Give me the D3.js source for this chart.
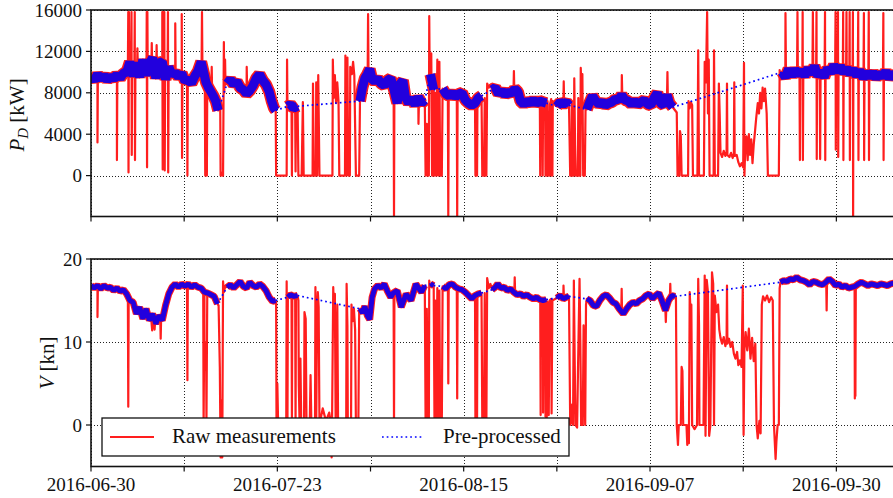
<!DOCTYPE html>
<html>
<head>
<meta charset="utf-8">
<script src="https://cdn.jsdelivr.net/npm/d3@7"></script>
<style>
  html, body { margin: 0; padding: 0; background: #fff; }
  svg { display: block; font-family: "Liberation Serif", "DejaVu Serif", serif; }
</style>
</head>
<body>
<svg id="chart" width="893" height="498"></svg>
<script>
// ---------------------------------------------------------------
// Data: [day offset from startDate, value]
// ---------------------------------------------------------------
const startDate = "2016-06-30";
const xTickLabels = ["2016-06-30", "2016-07-23", "2016-08-15", "2016-09-07", "2016-09-30"];
const powerTicks = [0, 4000, 8000, 12000, 16000];
const speedTicks = [0, 10, 20];
const seriesNames = ["Raw measurements", "Pre-processed"];

// Pre-processed shaft power [kW]; gaps between runs are bridged
const powerClean = [
  [0,9600],[0.4,9200],[0.8,9800],[1.2,9300],[1.6,9700],[2.0,9200],[2.4,9600],[2.8,9300],[3.2,9800],[3.6,9400],
  [4.0,9900],[4.4,10000],[4.8,11000],[5.2,9600],[5.6,10900],[6.0,9500],[6.4,11200],[6.8,9700],[7.2,10800],[7.6,11400],
  [8.0,9400],[8.4,10900],[8.8,11000],[9.2,9300],[9.6,10500],[10.0,9700],[10.4,10000],[10.8,9500],[11.2,9900],[11.6,9100],
  [12.0,9300],[12.4,8900],[12.8,9600],[13.2,10100],[13.6,11000],[13.9,10000],[14.2,9000],[14.5,8500],[14.8,8100],[15.1,7700],
  [15.4,7200],[15.7,6300],
  [16.8,8900],[17.2,9300],[17.6,8800],[18.0,9100],[18.4,8500],[18.8,8300],[19.2,7900],[19.6,8200],[20.0,8700],[20.4,9400],
  [20.8,9800],[21.2,9200],[21.6,8800],[22.0,8100],[22.3,7200],[22.6,6500],[22.8,6300],
  [24.3,6700],[24.6,6900],[25.0,6500],[25.5,6700],
  [33.2,7200],[33.5,8500],[33.8,9400],[34.1,9800],[34.4,10300],[34.7,9300],[35.0,9100],[35.4,9400],[35.8,8900],[36.2,8700],
  [36.6,9200],[37.0,9400],[37.3,8600],[37.8,7000],[38.1,8800],[38.5,9200],[38.8,7600],[39.2,7000],[39.6,7500],[40.0,6800],
  [40.4,7600],[40.8,7000],[41.2,7300],
  [41.9,9800],[42.3,8300],
  [43.4,8400],[43.8,7900],[44.2,7700],[44.6,8000],[45.0,7600],[45.4,7900],[45.8,8000],[46.2,7300],[46.6,7000],[47.0,6800],
  [47.4,7000],[47.8,7500],[48.2,7700],
  [49.5,8300],[49.9,8500],[50.3,7900],[50.7,8200],[51.1,7800],[51.5,8100],[51.9,7900],[52.3,8400],[52.7,8100],[53.0,7200],
  [53.4,6900],[53.8,7200],[54.2,7000],[54.6,7300],[55.0,7000],[55.4,7200],[55.8,7100],[56.2,7000],
  [57.5,6700],[57.9,7100],[58.3,6900],[58.7,7100],[59.0,6800],
  [61.2,6400],[61.5,7000],[61.9,7700],[62.3,7200],[62.7,6900],[63.1,7100],[63.5,6800],[63.9,7000],[64.3,7100],[64.7,7400],
  [65.1,7300],[65.5,7800],[65.9,7300],[66.3,7200],[66.7,6900],[67.1,7200],[67.5,6900],[67.9,7100],[68.3,7300],[68.7,6900],
  [69.1,6800],[69.5,7500],[69.9,8000],[70.3,7000],[70.7,6800],[71.1,7800],[71.4,7000],[71.8,6600],
  [85.3,10000],[85.7,9500],[86.1,10300],[86.5,9600],[86.9,10300],[87.3,9700],[87.7,10200],[88.1,9600],[88.5,10400],[88.9,9800],
  [89.3,10600],[89.7,9600],[90.1,10100],[90.5,9500],[90.9,10400],[91.3,9900],[91.7,10700],[92.1,10000],[92.5,10600],[92.9,9900],
  [93.3,10400],[93.7,9800],[94.1,10300],[94.5,9600],[94.9,10200],[95.3,9400],[95.7,10000],[96.1,9500],[96.5,10000],[96.9,9400],
  [97.3,9900],[97.7,9500],[98.1,10100],[98.5,9400],[98.9,9900],[99.3,9600],[99.6,9800]
];

// Raw power readings that were rejected (spikes, drop-outs, unsteady periods)
const powerOutliers = [
  [0.75,9500],[0.8,3200],[0.85,9600],
  [3.15,9600],[3.2,1500],[3.25,9600],
  [4.55,10200],[4.6,15800],[4.63,300],[4.68,15800],[4.72,10300],
  [4.95,10200],[5.0,15800],[5.03,2000],[5.08,10500],
  [5.35,10000],[5.4,15800],[5.43,1500],[5.48,10300],
  [5.7,10800],[5.73,12300],[5.78,10500],
  [6.85,10300],[6.88,15800],[6.92,800],[6.96,15800],[7.0,10200],
  [7.45,10500],[7.5,12800],[7.55,10400],
  [8.05,10200],[8.1,12600],[8.15,10200],
  [8.75,10300],[8.8,15800],[8.85,600],[8.9,15800],[8.95,1000],[9.05,15800],[9.1,500],[9.15,10000],
  [9.45,10000],[9.5,15800],[9.53,300],[9.58,9900],
  [10.35,9800],[10.4,14700],[10.45,9800],
  [11.15,9500],[11.2,15600],[11.24,1700],[11.28,9400],
  [11.85,9200],[11.9,0],[11.95,9200],
  [13.65,10800],[13.7,15800],[13.75,10600],
  [14.05,9000],[14.1,0],[14.2,800],[14.3,0],[14.35,8800],
  [14.85,8200],[14.9,10500],[14.95,8000],
  [15.95,6800],[16.0,0],[16.1,300],[16.2,0],[16.3,0],[16.4,12900],[16.45,8000],[16.55,11200],[16.6,8800],
  [19.15,8000],[19.22,10500],[19.28,8100],
  [22.85,0],[23.5,0],[24.15,0],[24.2,11200],[24.25,6500],
  [24.75,6800],[24.8,0],[24.85,6700],
  [25.2,6600],[25.25,400],[25.3,6600],
  [25.6,0],[26.0,0],[26.15,7100],[26.25,0],[26.8,0],[27.35,0],[27.4,8900],[27.5,0],[27.75,0],[27.8,9000],
  [27.9,0],[28.05,9700],[28.2,0],[29.8,0],[29.85,11200],[29.95,7500],[30.1,9700],[30.25,7000],[30.4,9000],[30.55,7200],
  [30.65,0],[31.35,0],[31.4,11600],[31.5,0],[31.65,11400],[31.75,0],[31.95,0],[32.0,10500],[32.2,9800],[32.35,11000],
  [32.5,9700],[32.7,0],[33.1,0],
  [34.15,9900],[34.2,15600],[34.25,10000],
  [37.35,9200],[37.4,-3900],[37.45,9200],
  [40.35,7400],[40.42,5000],[40.48,7200],
  [41.3,0],[41.45,5000],[41.55,0],[41.7,0],[41.75,15400],[41.8,9500],
  [42.0,11800],[42.1,0],[42.2,0],[42.25,8600],
  [42.4,0],[42.5,8000],[42.6,0],[42.75,11200],[42.85,0],[43.0,11000],[43.1,0],[43.3,0],
  [44.05,7700],[44.1,-3900],[44.15,7700],
  [45.15,7700],[45.2,-3900],[45.25,7800],
  [47.45,0],[47.55,6900],[47.65,0],[47.7,7300],
  [48.3,0],[48.5,0],[48.6,7500],[48.7,0],[48.8,0],[48.9,8900],[49.1,8500],[49.3,8800],
  [52.15,8200],[52.2,10100],[52.25,8200],
  [55.35,7000],[55.45,0],[55.5,7100],[55.7,7000],[55.75,0],[55.8,7000],[56.05,7100],[56.1,0],
  [56.25,0],[56.35,7200],[56.5,0],[56.6,0],[56.65,6900],[56.8,7400],[56.85,0],[56.95,0],[57.0,7200],[57.3,6800],
  [58.25,6900],[58.35,9100],[58.4,6900],
  [59.15,0],[59.3,0],[59.35,7000],[59.45,0],[59.6,0],[59.65,9400],[59.75,3000],[59.85,0],[60.1,0],[60.15,7500],
  [60.25,0],[60.4,0],[60.45,10400],[60.55,8000],[60.65,9800],[60.75,0],[60.95,0],[61.05,7000],
  [65.45,7500],[65.52,9700],[65.58,7600],
  [71.05,7600],[71.15,10000],[71.2,7500],
  [72.3,6100],[72.4,0],[72.6,0],[72.7,4300],[72.8,3800],[72.9,0],[73.7,0],[73.75,7200],[73.9,6500],[74.05,7100],
  [74.2,6800],[74.3,0],[74.85,0],[74.95,12100],[75.05,0],[75.65,0],[75.75,11000],[75.9,9000],[76.05,15800],[76.15,6000],
  [76.25,11200],[76.35,0],[76.85,0],[76.9,12100],[77.0,0],[77.4,0],[77.5,8900],[77.6,6000],[77.7,2200],[77.9,1800],
  [78.1,2400],[78.3,1900],[78.45,2300],[78.5,8900],[78.55,2000],[78.8,1800],[79.0,2200],[79.2,1700],[79.35,2100],[79.4,9000],
  [79.45,1900],[79.7,2000],[79.9,1300],[80.1,900],[80.3,1200],[80.5,800],[80.6,10900],[80.65,0],[80.75,2500],[80.9,3800],
  [81.05,1500],[81.2,4000],[81.35,2000],[81.5,3500],[81.65,1200],[81.8,3000],[81.95,4200],[82.1,5500],[82.3,7000],[82.45,6000],
  [82.6,8000],[82.75,6500],[82.9,8500],[83.05,7200],[83.2,8400],[83.4,6000],[83.55,0],[84.9,0],[85.0,10200],[85.15,9400],
  [85.65,9700],[85.72,15700],[85.78,9700],
  [87.15,9800],[87.2,15800],[87.25,9700],[87.45,9700],[87.5,1500],[87.55,9700],
  [87.8,9700],[87.84,15800],[87.87,1500],[87.92,9800],
  [89.05,10000],[89.1,15800],[89.15,10300],[89.5,10000],[89.55,15800],[89.58,1600],[89.62,9900],
  [89.95,9700],[90.0,1600],[90.05,9700],
  [90.55,9900],[90.6,15800],[90.63,1500],[90.67,9900],
  [91.85,10300],[91.9,15800],[91.93,2500],[91.97,10200],[92.15,10200],[92.2,15800],[92.23,1800],[92.27,10200],
  [92.8,10200],[92.84,15800],[92.87,1500],[92.92,10100],[93.2,10000],[93.25,15800],[93.28,10000],
  [93.6,10100],[93.64,15800],[93.67,1500],[93.72,10000],
  [94.0,9900],[94.04,15800],[94.07,-3900],[94.12,9900],[94.65,9900],[94.7,15800],[94.73,1500],[94.77,9900],
  [95.35,9600],[95.4,15700],[95.43,1500],[95.47,9600],[95.95,9700],[96.0,15800],[96.03,1500],[96.07,9700],
  [97.75,9700],[97.8,15700],[97.83,1500],[97.87,9700]
];

// Pre-processed ship speed [kn]
const speedClean = [
  [0,16.8],[0.4,16.5],[0.8,16.8],[1.2,16.4],[1.6,16.8],[2.0,16.5],[2.4,16.6],[2.8,16.2],[3.2,16.5],[3.6,16.1],
  [4.0,16.3],[4.4,15.8],[4.8,15.0],[5.2,14.8],[5.6,13.4],[6.0,14.2],[6.4,12.8],[6.8,14.0],[7.2,12.6],[7.6,13.4],
  [8.0,12.2],[8.4,13.2],[8.8,12.6],[9.2,14.4],[9.6,15.8],[10.0,16.6],[10.4,17.0],[10.8,16.6],[11.2,17.0],[11.6,16.7],
  [12.0,17.0],[12.4,16.6],[12.8,16.9],[13.2,16.6],[13.6,16.5],[14.0,16.0],[14.4,15.9],[14.8,15.7],[15.2,15.5],[15.6,14.6],
  [16.8,16.6],[17.2,16.9],[17.6,16.5],[18.0,16.9],[18.4,17.3],[18.8,16.7],[19.2,16.5],[19.6,17.2],[20.0,16.8],[20.4,16.6],
  [20.8,17.0],[21.2,16.7],[21.6,16.2],[22.0,15.4],[22.4,14.9],[22.8,15.0],
  [24.3,15.4],[24.6,15.7],[25.0,15.5],[25.5,15.6],
  [33.2,14.0],[33.5,13.5],[33.8,14.3],[34.1,13.2],[34.4,12.7],[34.7,15.4],[35.0,16.4],[35.4,16.8],[35.8,16.5],[36.2,17.0],
  [36.6,16.1],[37.0,15.4],[37.3,15.9],[37.8,16.2],[38.3,14.2],[38.6,15.0],[38.9,15.8],[39.2,15.4],[39.5,15.0],[39.8,16.0],
  [40.1,17.0],[40.5,16.4],[40.8,16.0],[41.2,16.8],
  [41.9,17.0],[42.3,16.8],
  [43.4,16.7],[43.8,16.4],[44.2,16.9],[44.6,17.0],[45.0,16.6],[45.4,16.4],[45.8,16.3],[46.2,16.0],[46.6,15.6],[47.0,15.2],
  [47.4,15.6],[47.8,15.8],[48.2,15.9],
  [49.5,16.3],[49.9,16.6],[50.2,17.0],[50.6,16.5],[51.0,16.6],[51.4,16.2],[51.8,16.4],[52.2,16.0],[52.6,15.7],[53.0,15.8],
  [53.4,15.5],[53.8,15.7],[54.2,15.4],[54.6,15.2],[55.0,15.4],[55.4,15.1],[55.8,15.0],[56.2,15.1],
  [57.5,15.3],[57.9,15.6],[58.3,15.2],[58.7,15.4],[59.0,15.5],
  [61.2,15.2],[61.6,15.0],[62.0,14.4],[62.4,14.3],[62.8,15.0],[63.2,15.5],[63.6,15.7],[64.0,15.3],[64.4,14.8],[64.8,14.6],
  [65.2,14.0],[65.7,13.4],[66.1,14.0],[66.5,14.5],[66.9,14.8],[67.3,14.6],[67.7,15.0],[68.1,15.2],[68.5,15.6],[68.9,15.8],
  [69.3,15.2],[69.7,15.6],[70.1,15.9],[70.5,14.9],[70.9,13.8],[71.3,15.0],[71.7,15.6],[72.1,15.5],
  [85.1,17.2],[85.5,17.4],[85.9,17.3],[86.3,17.6],[86.7,17.5],[87.1,17.8],[87.5,17.5],[87.9,17.4],[88.3,17.2],[88.7,16.9],
  [89.1,17.3],[89.5,17.2],[89.9,17.0],[90.3,16.9],[90.7,17.2],[91.1,17.6],[91.5,17.3],[91.9,16.8],[92.3,17.0],[92.7,16.6],
  [93.1,16.8],[93.5,16.5],[93.9,16.6],[94.3,16.7],[94.7,17.0],[95.1,17.2],[95.5,17.0],[95.9,16.8],[96.3,17.0],[96.7,16.9],
  [97.1,16.8],[97.5,17.0],[97.9,16.9],[98.3,16.8],[98.7,17.0],[99.1,17.1],[99.5,17.0]
];

// Raw speed readings that were rejected
const speedOutliers = [
  [0.75,16.7],[0.8,13.0],[0.85,16.6],
  [4.55,15.9],[4.6,2.2],[4.65,15.5],
  [7.45,12.6],[7.55,11.4],[7.7,12.8],[7.85,11.5],[7.95,13.0],
  [8.55,12.8],[8.6,10.4],[8.65,12.6],
  [11.85,16.9],[11.9,5.4],[11.95,16.8],
  [13.85,16.3],[13.9,0],[14.0,9.5],[14.1,6.7],[14.2,10.0],[14.25,0.5],[14.35,15.8],
  [15.75,14.4],[15.8,12.0],[15.9,7.0],[16.0,-3.9],[16.1,3.0],[16.2,-3.9],[16.3,17.3],[16.4,16.0],[16.6,16.8],
  [22.85,14.9],[22.9,0],[23.0,5.0],[23.1,0],[23.6,0],[24.1,0],[24.15,17.3],[24.25,0],
  [24.75,15.6],[24.8,0],[24.85,15.5],
  [25.2,15.5],[25.25,0],[25.3,15.6],
  [25.6,15.0],[25.65,4.8],[25.75,0],[25.85,8.0],[25.95,0],[26.3,0],[26.35,13.6],[26.5,12.8],[26.6,0],[27.0,0],
  [27.1,6.0],[27.2,0],[27.65,0],[27.7,16.6],[27.8,0],[27.9,13.5],[28.0,16.0],[28.1,14.2],[28.2,0],[28.6,2.0],
  [29.0,0.5],[29.4,1.5],[29.65,0],[29.7,-3.9],[29.75,0],[29.9,16.6],[30.0,13.0],[30.1,15.8],[30.2,0],[30.4,14.5],
  [30.5,0],[31.0,0],[31.5,0],[31.55,17.0],[31.65,12.0],[31.7,0],[32.1,0],[32.15,14.5],[32.3,12.5],[32.45,14.0],
  [32.6,11.5],[32.7,0],[33.0,0],[33.1,13.5],
  [37.35,15.6],[37.4,0],[37.45,15.7],
  [41.3,0],[41.45,14.0],[41.55,0],[41.7,0],[41.75,17.4],[41.85,16.8],
  [42.4,0],[42.5,15.0],[42.6,0],[42.75,16.5],[42.85,0],[43.0,16.2],[43.1,0],[43.3,0],
  [44.05,16.9],[44.1,5.0],[44.15,16.8],
  [45.15,16.6],[45.2,3.2],[45.25,16.5],
  [47.45,0],[47.55,15.4],[47.65,0],[47.7,15.7],
  [48.3,0],[48.5,0],[48.6,15.9],[48.7,0],[48.8,0],[48.9,17.7],[49.1,16.5],[49.3,17.0],
  [52.25,16.0],[52.3,17.8],[52.35,15.9],
  [55.45,15.1],[55.5,1.2],[55.55,15.0],[55.75,15.0],[55.8,1.5],[55.85,15.0],[56.05,15.1],[56.1,1.0],
  [56.25,0.8],[56.35,14.8],[56.5,1.2],[56.6,15.0],[56.8,15.2],[56.85,1.4],[56.95,15.0],
  [58.25,15.3],[58.32,16.8],[58.38,15.2],
  [59.15,0],[59.3,0.5],[59.4,2.5],[59.5,0],[59.6,17.4],[59.7,8.0],[59.8,0],[60.0,-0.3],[60.1,6.0],[60.3,17.6],
  [60.4,10.0],[60.5,0],[60.7,0],[60.8,12.0],[61.0,0],[61.1,14.5],
  [65.45,13.6],[65.5,16.4],[65.55,13.5],
  [70.85,13.8],[70.95,12.4],[71.0,13.8],
  [71.45,15.3],[71.5,17.0],[71.55,15.4],
  [72.2,15.4],[72.3,0],[72.45,-2.4],[72.55,0],[72.8,0],[72.9,7.0],[73.0,6.5],[73.1,0],[73.5,0],[73.6,-2.4],
  [73.7,0],[73.8,-2.2],[73.9,16.0],[74.0,13.6],[74.1,14.5],[74.2,0],[74.5,-0.5],[74.8,0],[74.95,17.6],[75.05,12.0],
  [75.1,0],[75.6,0],[75.75,18.0],[75.85,-1.3],[76.0,17.5],[76.15,16.0],[76.3,-1.3],[76.45,0],[76.65,18.4],[76.8,17.0],
  [76.9,0],[77.0,15.6],[77.2,13.6],[77.4,14.5],[77.55,11.5],[77.7,10.5],[77.9,9.8],[78.1,10.6],[78.3,9.5],[78.45,10.2],
  [78.5,16.8],[78.55,9.8],[78.75,10.4],[78.95,9.4],[79.15,10.0],[79.35,8.6],[79.55,8.0],[79.75,8.8],[79.9,7.2],[80.1,7.8],
  [80.3,7.0],[80.45,16.8],[80.55,-1.2],[80.65,9.0],[80.8,11.2],[81.0,9.0],[81.2,11.6],[81.4,8.0],[81.6,10.5],[81.8,7.7],
  [82.0,9.8],[82.15,0],[82.3,-1.6],[82.5,0.5],[82.65,-1.0],[82.8,14.5],[82.95,15.5],[83.2,15.0],[83.45,15.6],[83.7,14.8],
  [83.95,15.4],[84.15,15.0],[84.3,0],[84.5,-4.1],[84.6,-2.0],[84.75,0],[84.9,0],[85.0,16.5],
  [90.75,17.2],[90.8,13.8],[90.85,17.1],
  [94.25,16.7],[94.28,3.2],[94.35,3.5],[94.4,16.8]
];

// ---------------------------------------------------------------
// Layout
// ---------------------------------------------------------------
const svg = d3.select("#chart");
const DAY = 864e5;
const t0 = Date.parse(startDate + "T00:00:00Z");
const toDate = d => new Date(t0 + d * DAY);

const plotLeft = 91, plotRight = 895.5;
const x = d3.scaleUtc().domain([toDate(0), toDate(99.3)]).range([plotLeft, plotRight]);

const majorDates = xTickLabels.map(s => new Date(Date.parse(s + "T00:00:00Z")));
const minorDates = majorDates.slice(0, -1).map((d, i) => new Date((+d + +majorDates[i + 1]) / 2));
const allXTicks = majorDates.concat(minorDates);

const RED = "#ff1e1e", BAND = "#2200dd", BLUE = "#0000ff", INK = "#111";
const GAP = 0.55; // days; longer spacing means the cleaned series was bridged

const panels = [
  { id: "power", clean: powerClean, outliers: powerOutliers, domain: [-3950, 16000],
    top: 10, bottom: 216.5, ticks: powerTicks, bandW: 9, rimW: 12,
    title: { main: "P", sub: "D", unit: " [kW]", x: 24, y: 115 } },
  { id: "speed", clean: speedClean, outliers: speedOutliers, domain: [-5, 20],
    top: 259, bottom: 466.5, ticks: speedTicks, bandW: 5, rimW: 7,
    title: { main: "V", sub: null, unit: " [kn]", x: 54, y: 363 }, xLabels: true }
];

const defs = svg.append("defs");

panels.forEach(p => {
  const y = d3.scaleLinear().domain(p.domain).range([p.bottom, p.top]);
  const line = d3.line().x(d => x(toDate(d[0]))).y(d => y(d[1]));

  // split cleaned series into continuous runs and bridges between them
  const runs = [];
  p.clean.forEach((pt, i) => {
    if (i === 0 || pt[0] - p.clean[i - 1][0] > GAP) runs.push([]);
    runs[runs.length - 1].push(pt);
  });
  const bridges = [];
  for (let i = 1; i < runs.length; i++) bridges.push([runs[i - 1][runs[i - 1].length - 1], runs[i][0]]);

  // raw series = every reading, cleaned and rejected, in time order
  const raw = p.clean.concat(p.outliers).slice().sort((a, b) => a[0] - b[0]);

  const clipId = "clip-" + p.id;
  defs.append("clipPath").attr("id", clipId)
    .append("rect").attr("x", plotLeft).attr("y", p.top)
    .attr("width", plotRight - plotLeft).attr("height", p.bottom - p.top);

  const g = svg.append("g");

  // grid
  const grid = g.append("g").attr("stroke", "#222").attr("stroke-width", 1)
    .attr("stroke-dasharray", "1,2").attr("shape-rendering", "crispEdges");
  grid.selectAll("line.v").data(allXTicks).join("line").attr("class", "v")
    .attr("x1", d => Math.round(x(d)) + 0.5).attr("x2", d => Math.round(x(d)) + 0.5)
    .attr("y1", p.top).attr("y2", p.bottom);
  grid.selectAll("line.h").data(p.ticks).join("line").attr("class", "h")
    .attr("x1", plotLeft).attr("x2", plotRight)
    .attr("y1", d => Math.round(y(d)) + 0.5).attr("y2", d => Math.round(y(d)) + 0.5);

  const data = g.append("g").attr("clip-path", `url(#${clipId})`).attr("fill", "none")
    .attr("stroke-linejoin", "bevel").attr("stroke-linecap", "butt");

  // scatter of raw readings around the cleaned band
  data.selectAll("path.rim").data(runs).join("path").attr("class", "rim")
    .attr("d", line).attr("stroke", RED).attr("stroke-width", p.rimW);
  // raw measurements
  data.append("path").datum(raw).attr("d", line)
    .attr("stroke", RED).attr("stroke-width", 2.2).attr("stroke-linejoin", "round");
  // pre-processed: dense runs
  data.selectAll("path.band").data(runs).join("path").attr("class", "band")
    .attr("d", line).attr("stroke", BAND).attr("stroke-width", p.bandW);
  // pre-processed: bridged gaps
  data.selectAll("path.bridge").data(bridges).join("path").attr("class", "bridge")
    .attr("d", line).attr("stroke", BLUE).attr("stroke-width", 1.7)
    .attr("stroke-dasharray", "1.7,3");

  // frame
  g.append("rect").attr("x", plotLeft).attr("y", p.top)
    .attr("width", plotRight - plotLeft).attr("height", p.bottom - p.top)
    .attr("fill", "none").attr("stroke", INK).attr("stroke-width", 1.6);

  // y ticks
  const yt = g.append("g").selectAll("g").data(p.ticks).join("g")
    .attr("transform", d => `translate(0,${y(d)})`);
  yt.append("line").attr("x1", plotLeft - 5).attr("x2", plotLeft)
    .attr("stroke", INK).attr("stroke-width", 1.2);
  yt.append("text").attr("x", plotLeft - 9).attr("dy", "0.35em")
    .attr("text-anchor", "end").attr("font-size", 19).attr("fill", INK)
    .text(d => d);

  // x ticks
  g.append("g").selectAll("line").data(allXTicks).join("line")
    .attr("x1", d => x(d)).attr("x2", d => x(d))
    .attr("y1", p.bottom).attr("y2", p.bottom + 5)
    .attr("stroke", INK).attr("stroke-width", 1.2);
  if (p.xLabels) {
    g.append("g").selectAll("text").data(majorDates).join("text")
      .attr("x", d => x(d)).attr("y", 491)
      .attr("text-anchor", "middle").attr("font-size", 19).attr("fill", INK)
      .text((d, i) => xTickLabels[i]);
  }

  // axis title
  const tt = g.append("text")
    .attr("transform", `translate(${p.title.x},${p.title.y}) rotate(-90)`)
    .attr("text-anchor", "middle").attr("font-size", 21).attr("fill", INK);
  tt.append("tspan").attr("font-style", "italic").text(p.title.main);
  if (p.title.sub) {
    tt.append("tspan").attr("font-style", "italic").attr("font-size", 15).attr("dy", 4).text(p.title.sub);
    tt.append("tspan").attr("dy", -4).text(p.title.unit);
  } else {
    tt.append("tspan").text(p.title.unit);
  }
});

// legend
const lg = svg.append("g");
lg.append("rect").attr("x", 102).attr("y", 418).attr("width", 467).attr("height", 38)
  .attr("fill", "#fff").attr("stroke", INK).attr("stroke-width", 1.3);
lg.append("line").attr("x1", 110).attr("x2", 154).attr("y1", 437).attr("y2", 437)
  .attr("stroke", RED).attr("stroke-width", 2);
lg.append("text").attr("x", 172).attr("y", 443).attr("font-size", 21).attr("fill", INK).text(seriesNames[0]);
lg.append("line").attr("x1", 382).attr("x2", 424).attr("y1", 437).attr("y2", 437)
  .attr("stroke", BLUE).attr("stroke-width", 1.7).attr("stroke-dasharray", "1.7,3");
lg.append("text").attr("x", 443).attr("y", 443).attr("font-size", 21).attr("fill", INK).text(seriesNames[1]);
</script>
</body>
</html>
